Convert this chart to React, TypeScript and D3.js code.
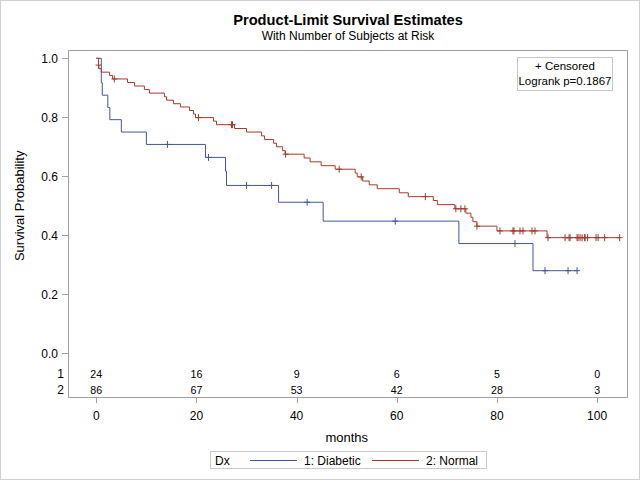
import React from "react";
import * as d3 from "d3";

// ---- Data ----
const diabeticTimes = [1.0, 1.2, 2.3, 2.7, 5.0, 10.0, 21.8, 25.8, 26.0, 36.4, 45.3, 72.4, 87.2];
const diabeticSurv = [0.917, 0.875, 0.833, 0.792, 0.75, 0.708, 0.664, 0.617, 0.569, 0.512, 0.448, 0.372, 0.28];
const diabeticCensored = [14.2, 22.4, 30.0, 35.0, 42.1, 59.7, 83.6, 89.6, 94.2, 96.0];

const normalTimes = [0.45, 0.5, 1.0, 2.66, 3.25, 6.24, 7.64, 9.6, 10.6, 13.6, 14.0, 15.4, 16.8, 18.6, 19.4, 19.8, 23.4, 24.0, 27.6, 30.0, 33.0, 33.6, 35.4, 36.0, 37.2, 37.7, 41.5, 42.7, 44.9, 47.7, 51.7, 52.1, 53.2, 54.5, 56.1, 60.5, 62.3, 67.3, 68.1, 71.6, 73.8, 74.8, 75.2, 76.0, 80.0, 90.0];
const normalSurv = [0.977, 0.965, 0.953, 0.942, 0.93, 0.918, 0.906, 0.894, 0.882, 0.87, 0.858, 0.846, 0.835, 0.823, 0.811, 0.799, 0.787, 0.775, 0.762, 0.75, 0.737, 0.725, 0.712, 0.7, 0.687, 0.675, 0.662, 0.649, 0.636, 0.624, 0.611, 0.598, 0.584, 0.571, 0.558, 0.544, 0.531, 0.518, 0.504, 0.49, 0.475, 0.461, 0.446, 0.431, 0.415, 0.392];
const normalCensored = [0.45, 3.6, 20.4, 27.0, 27.2, 37.8, 48.5, 52.9, 65.7, 71.8, 72.8, 73.6, 76.0, 80.6, 83.2, 83.4, 84.6, 85.2, 87.0, 87.6, 90.2, 93.6, 94.4, 94.6, 96.0, 96.2, 96.6, 97.0, 97.5, 97.6, 98.1, 99.8, 100.2, 101.5, 104.5];

const atRiskTimes = [0, 20, 40, 60, 80, 100];
const atRiskDiabetic = [24, 16, 9, 6, 5, 0];
const atRiskNormal = [86, 67, 53, 42, 28, 3];

const yTicks = [0, 0.2, 0.4, 0.6, 0.8, 1.0];
const xTicks = [0, 20, 40, 60, 80, 100];

const groups = [
  { name: "1: Diabetic", row: "1", color: "#445694", times: diabeticTimes, surv: diabeticSurv, cens: diabeticCensored, atRisk: atRiskDiabetic },
  { name: "2: Normal", row: "2", color: "#A23A2E", times: normalTimes, surv: normalSurv, cens: normalCensored, atRisk: atRiskNormal },
];

const FONT = "'Liberation Sans', Arial, sans-serif";

export default function App() {
  const W = 640, H = 480;
  const frame = { l: 68, t: 50, r: 627, b: 397 };
  const x = d3.scaleLinear().domain([0, 100]).range([96.3, 597.1]);
  const y = d3.scaleLinear().domain([0, 1]).range([353.3, 58.3]);

  const line = d3.line<[number, number]>().x(d => x(d[0])).y(d => y(d[1])).curve(d3.curveStepAfter);

  const survAt = (times: number[], surv: number[], t: number) => {
    let s = 1;
    for (let i = 0; i < times.length; i++) if (times[i] <= t) s = surv[i];
    return s;
  };

  return (
    <svg width={W} height={H} style={{ position: "absolute", left: 0, top: 0, background: "#fff" }} fontFamily={FONT}>
      <rect x={0.5} y={0.5} width={W - 1} height={H - 1} fill="#fff" stroke="#d0d0d0" />
      <text x={348} y={25} textAnchor="middle" fontSize={14.67} fontWeight="bold">Product-Limit Survival Estimates</text>
      <text x={348} y={40} textAnchor="middle" fontSize={12}>With Number of Subjects at Risk</text>

      {/* frame */}
      <rect x={frame.l + 0.5} y={frame.t + 0.5} width={frame.r - frame.l} height={frame.b - frame.t} fill="none" stroke="#a0a0a0" shapeRendering="crispEdges" />

      {/* y axis */}
      {yTicks.map(v => (
        <g key={"y" + v}>
          <line x1={62} x2={frame.l} y1={Math.round(y(v)) + 0.5} y2={Math.round(y(v)) + 0.5} stroke="#a0a0a0" shapeRendering="crispEdges" />
          <text x={58} y={y(v) + 4.3} textAnchor="end" fontSize={12}>{v.toFixed(1)}</text>
        </g>
      ))}
      <text transform={`translate(24,${y(0.5)}) rotate(-90)`} textAnchor="middle" fontSize={13}>Survival Probability</text>

      {/* x axis */}
      {xTicks.map(v => (
        <g key={"x" + v}>
          <line x1={Math.round(x(v)) + 0.5} x2={Math.round(x(v)) + 0.5} y1={frame.b} y2={frame.b + 6} stroke="#a0a0a0" shapeRendering="crispEdges" />
          <text x={x(v)} y={419.5} textAnchor="middle" fontSize={12}>{v}</text>
        </g>
      ))}
      <text x={x(50)} y={442} textAnchor="middle" fontSize={13}>months</text>

      {/* curves */}
      {groups.map(g => {
        const end = g.cens[g.cens.length - 1];
        const pts: [number, number][] = [[0, 1], ...g.times.map((t, i) => [t, g.surv[i]] as [number, number]), [end, g.surv[g.surv.length - 1]]];
        return (
          <g key={g.name}>
            <path d={line(pts) || ""} fill="none" stroke={g.color} strokeWidth={1} />
            {g.cens.map((t, i) => {
              const cx = x(t), cy = y(survAt(g.times, g.surv, t));
              return (
                <g key={i} stroke={g.color} strokeWidth={1}>
                  <line x1={cx - 3} x2={cx + 3} y1={cy} y2={cy} />
                  <line x1={cx} x2={cx} y1={cy - 3.5} y2={cy + 3.5} />
                </g>
              );
            })}
          </g>
        );
      })}

      {/* at risk table */}
      {groups.map((g, gi) => (
        <g key={"risk" + gi}>
          <text x={64} y={378 + gi * 16} textAnchor="end" fontSize={12}>{g.row}</text>
          {atRiskTimes.map((t, i) => (
            <text key={i} x={x(t)} y={377.5 + gi * 16} textAnchor="middle" fontSize={10.67}>{g.atRisk[i]}</text>
          ))}
        </g>
      ))}

      {/* inset */}
      <rect x={517.5} y={57.5} width={95} height={33} fill="#fff" stroke="#c8c8c8" shapeRendering="crispEdges" />
      <text x={565} y={69.5} textAnchor="middle" fontSize={11.5}>+ Censored</text>
      <text x={565} y={84.5} textAnchor="middle" fontSize={11.5}>Logrank p=0.1867</text>

      {/* legend */}
      <rect x={210.5} y={451.5} width={276} height={17} fill="#fff" stroke="#c8c8c8" shapeRendering="crispEdges" />
      <text x={215} y={464.5} fontSize={12}>Dx</text>
      {groups.map((g, i) => {
        const lx = 250 + i * 122;
        return (
          <g key={"leg" + i}>
            <line x1={lx} x2={lx + 47} y1={460.5} y2={460.5} stroke={g.color} strokeWidth={1} />
            <text x={lx + 54} y={464.5} fontSize={12}>{g.name}</text>
          </g>
        );
      })}
    </svg>
  );
}
